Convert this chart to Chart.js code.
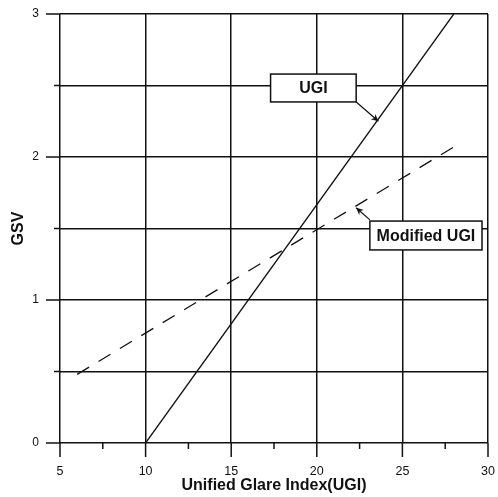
<!DOCTYPE html>
<html>
<head>
<meta charset="utf-8">
<script src="https://cdn.jsdelivr.net/npm/chart.js@4"></script>
<style>
  html, body { margin: 0; padding: 0; background: #fff; }
  #wrap { width: 498px; height: 497px; position: relative; }
</style>
</head>
<body>
<div id="wrap"><canvas id="c" width="498" height="497"></canvas></div>
<script>
// ---- data ----
const ugiX = [10, 28];
const ugiY = [0, 3];
const modX = [6, 28];
const modY = [0.48, 2.07];
const xTickLabels = [5, 10, 15, 20, 25, 30];
const yTickLabels = [0, 1, 2, 3];
const seriesNames = ['UGI', 'Modified UGI'];

// annotation callouts (data coordinates)
const callouts = [
  { text: seriesNames[0], box: [17.3, 2.385, 22.3, 2.58], tail: [22.3, 2.385], tip: [23.6, 2.25] },
  { text: seriesNames[1], box: [23.1, 1.35, 29.65, 1.552], tail: [23.1, 1.56], tip: [22.3, 1.645] }
];

const toPts = (xs, ys) => xs.map((x, i) => ({ x: x, y: ys[i] }));

const tickPlugin = {
  id: 'ticks',
  afterDraw(chart) {
    const { ctx, chartArea, scales } = chart;
    ctx.save();
    ctx.strokeStyle = '#111';
    ctx.lineWidth = 1.5;
    scales.x.ticks.forEach(t => {
      const px = scales.x.getPixelForValue(t.value);
      const len = (t.value % 5 === 0) ? 14 : 6;
      ctx.beginPath();
      ctx.moveTo(px, chartArea.bottom);
      ctx.lineTo(px, chartArea.bottom + len);
      ctx.stroke();
    });
    scales.y.ticks.forEach(t => {
      const py = scales.y.getPixelForValue(t.value);
      const len = Number.isInteger(t.value) ? 14 : 6;
      ctx.beginPath();
      ctx.moveTo(chartArea.left, py);
      ctx.lineTo(chartArea.left - len, py);
      ctx.stroke();
    });
    // callouts
    const X = v => scales.x.getPixelForValue(v);
    const Y = v => scales.y.getPixelForValue(v);
    callouts.forEach(c => {
      const x0 = X(c.box[0]), x1 = X(c.box[2]);
      const y0 = Y(c.box[3]), y1 = Y(c.box[1]);
      ctx.fillStyle = '#fff';
      ctx.fillRect(x0, y0, x1 - x0, y1 - y0);
      ctx.lineWidth = 1.5;
      ctx.strokeStyle = '#111';
      ctx.strokeRect(x0, y0, x1 - x0, y1 - y0);
      ctx.fillStyle = '#111';
      ctx.font = 'bold 16px "Liberation Sans", Arial, sans-serif';
      ctx.textAlign = 'center';
      ctx.textBaseline = 'middle';
      ctx.fillText(c.text, (x0 + x1) / 2, (y0 + y1) / 2 + 1);
      // arrow
      const tx = X(c.tail[0]), ty = Y(c.tail[1]);
      const hx = X(c.tip[0]), hy = Y(c.tip[1]);
      ctx.lineWidth = 1.2;
      ctx.beginPath();
      ctx.moveTo(tx, ty);
      ctx.lineTo(hx, hy);
      ctx.stroke();
      const ang = Math.atan2(hy - ty, hx - tx);
      const L = 8, W = 0.45;
      ctx.beginPath();
      ctx.moveTo(hx, hy);
      ctx.lineTo(hx - L * Math.cos(ang - W), hy - L * Math.sin(ang - W));
      ctx.lineTo(hx - L * 0.6 * Math.cos(ang), hy - L * 0.6 * Math.sin(ang));
      ctx.lineTo(hx - L * Math.cos(ang + W), hy - L * Math.sin(ang + W));
      ctx.closePath();
      ctx.fill();
    });
    ctx.restore();
  }
};

new Chart(document.getElementById('c'), {
  type: 'scatter',
  data: {
    datasets: [
      {
        label: seriesNames[0],
        data: toPts(ugiX, ugiY),
        showLine: true,
        borderColor: '#111',
        borderWidth: 1.3,
        pointRadius: 0,
        fill: false
      },
      {
        label: seriesNames[1],
        data: toPts(modX, modY),
        showLine: true,
        borderColor: '#111',
        borderWidth: 1.3,
        borderDash: [14, 11],
        pointRadius: 0,
        fill: false
      }
    ]
  },
  options: {
    responsive: false,
    animation: false,
    layout: { padding: { top: 14, right: 10, left: 0, bottom: 0 } },
    plugins: { legend: { display: false }, tooltip: { enabled: false } },
    scales: {
      x: {
        type: 'linear',
        min: 5, max: 30,
        afterFit: s => { s.height = 54; s.paddingLeft = 0; s.paddingRight = 0; },
        ticks: {
          stepSize: 2.5,
          padding: 21,
          maxRotation: 0,
          autoSkip: false,
          color: '#111',
          font: { family: '"Liberation Sans", Arial, sans-serif', size: 12.5 },
          callback: v => (xTickLabels.includes(v) ? String(v) : '')
        },
        grid: {
          drawTicks: false,
          lineWidth: 1.5,
          color: ctx => (ctx.tick && ctx.tick.value % 5 === 0) ? '#111' : 'rgba(0,0,0,0)'
        },
        border: { display: false },
        title: {
          display: true,
          text: 'Unified Glare Index(UGI)',
          color: '#111',
          font: { family: '"Liberation Sans", Arial, sans-serif', size: 16, weight: 'bold' },
          padding: { top: 0, bottom: 2 }
        }
      },
      y: {
        type: 'linear',
        min: 0, max: 3,
        afterFit: s => { s.width = 60; s.paddingTop = 0; s.paddingBottom = 0; },
        ticks: {
          stepSize: 0.5,
          padding: 21,
          autoSkip: false,
          color: '#111',
          font: { family: '"Liberation Sans", Arial, sans-serif', size: 12 },
          callback: v => (yTickLabels.includes(v) ? String(v) : '')
        },
        grid: { drawTicks: false, lineWidth: 1.5, color: '#111' },
        border: { display: false },
        title: {
          display: true,
          text: 'GSV',
          color: '#111',
          font: { family: '"Liberation Sans", Arial, sans-serif', size: 16, weight: 'bold' },
          padding: { top: 9, bottom: 0 }
        }
      }
    }
  },
  plugins: [tickPlugin]
});
</script>
</body>
</html>
